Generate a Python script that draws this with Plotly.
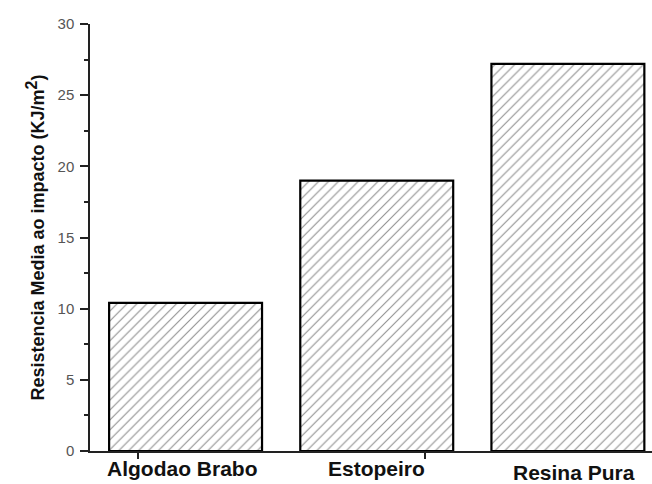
import plotly.graph_objects as go

# Mean impact resistance per material
categories = ["Algodao Brabo", "Estopeiro", "Resina Pura"]
values = [10.4, 19.0, 27.2]
positions = [0, 1, 2]

y_ticks = [0, 5, 10, 15, 20, 25, 30]

fig = go.Figure()

fig.add_trace(go.Bar(
    x=positions,
    y=values,
    width=0.8,
    marker=dict(
        color="white",
        line=dict(color="black", width=2.2),
        pattern=dict(shape="/", fgcolor="#222222", bgcolor="white",
                     size=7, solidity=0.16),
    ),
    showlegend=False,
))

# Category labels below the axis (the last one sits a little lower)
label_dy = [0, 0, -4]
label_dx = [-3, 0, 6]
for pos, name, dy, dx in zip(positions, categories, label_dy, label_dx):
    fig.add_annotation(
        x=pos, y=0, xref="x", yref="y",
        text="<b>" + name + "</b>", showarrow=False,
        yanchor="top", yshift=-4 + dy, xshift=dx,
        font=dict(family="Liberation Sans, Arial, sans-serif", size=21,
                  color="#111111"),
    )

fig.update_layout(
    width=652, height=484,
    margin=dict(l=90, r=0, t=24, b=33),
    paper_bgcolor="white",
    plot_bgcolor="white",
    font=dict(family="Liberation Sans, Arial, sans-serif", color="#444444"),
    bargap=0.2,
)

fig.update_xaxes(
    range=[-0.5, 2.44],
    showgrid=False, zeroline=False,
    showline=True, linecolor="#222222", linewidth=1.5,
    tickvals=[], showticklabels=False,
    minor=dict(tickvals=[-0.25, 1.25], ticks="outside", ticklen=6,
               tickcolor="#222222", tickwidth=1.5),
)

fig.update_yaxes(
    range=[0, 30],
    showgrid=False, zeroline=False,
    showline=True, linecolor="#222222", linewidth=1.5,
    tickvals=y_ticks,
    ticks="outside", ticklen=8, tickwidth=1.5, tickcolor="#222222",
    ticklabelstandoff=3,
    tickfont=dict(size=15, color="#555555"),
    minor=dict(dtick=2.5, ticks="outside", ticklen=4, tickwidth=1.5,
               tickcolor="#222222"),
    title=dict(
        text=("<b>Resistencia Media ao impacto (KJ/m"
              "<sup><span style='font-size:16px'>2</span></sup>)</b>"),
        font=dict(size=18, color="#111111"),
        standoff=8,
    ),
)

fig.write_html("out.html")
